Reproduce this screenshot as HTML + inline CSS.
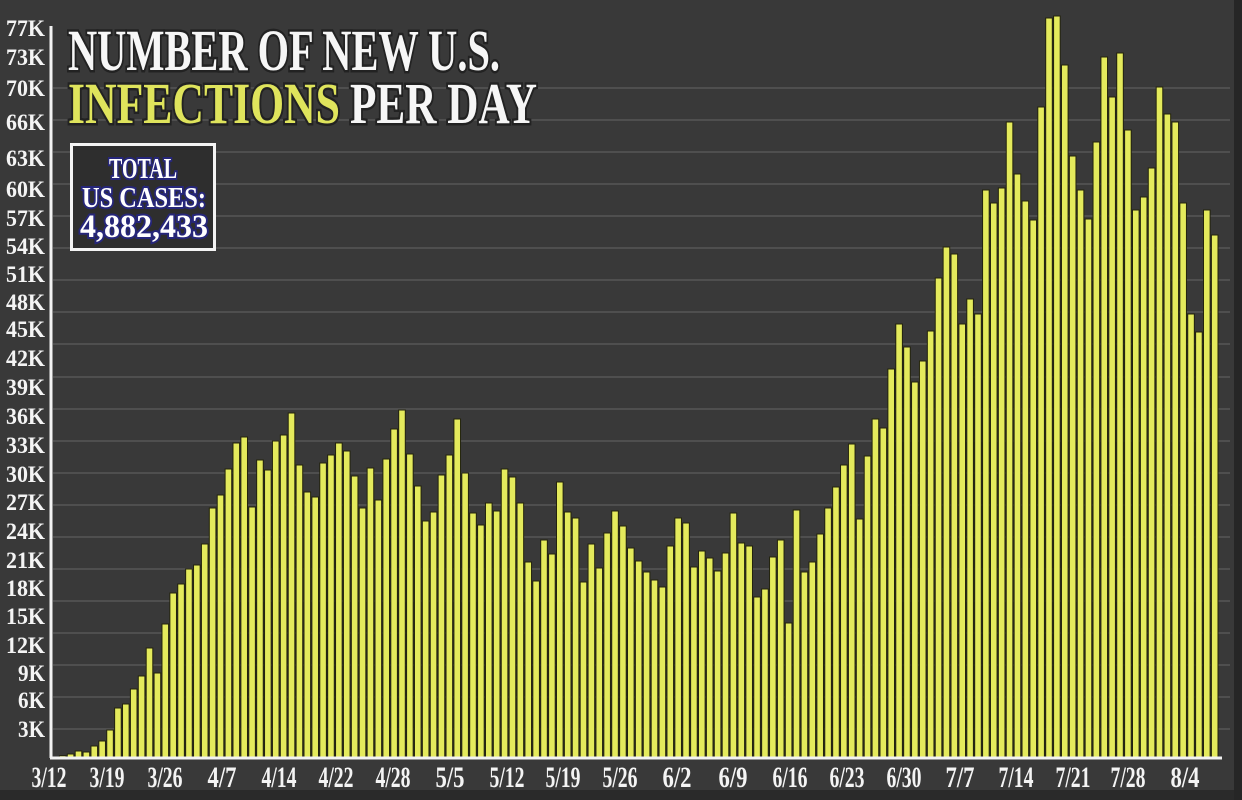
<!DOCTYPE html>
<html><head><meta charset="utf-8"><style>
html,body{margin:0;padding:0;background:#383838;}
svg{display:block;}
text{font-family:"Liberation Serif",serif;font-weight:bold;}
</style></head><body>
<svg id="s" width="1242" height="800" viewBox="0 0 1242 800" xmlns="http://www.w3.org/2000/svg">
<rect x="0" y="0" width="1242" height="800" fill="#393939"/>
<rect x="0" y="790" width="1242" height="10" fill="#2a2a2a"/>
<rect x="1234" y="0" width="8" height="800" fill="#262626"/>
<g id="grid" stroke="#575757" stroke-width="1.5"></g>
<g id="bars"></g>
<line x1="51" y1="26" x2="51" y2="758" stroke="#f2f2f2" stroke-width="3"/>
<line x1="50" y1="758" x2="1222" y2="758" stroke="#f2f2f2" stroke-width="3"/>
<g id="ylab" fill="#f4f4f4" font-size="23" text-anchor="end"></g>
<g id="xlab" fill="#f4f4f4" font-size="30" text-anchor="middle"></g>
<g stroke="#222" stroke-width="5" paint-order="stroke" font-size="58">
<text x="68" y="70" fill="#f6f6f6" textLength="432" lengthAdjust="spacingAndGlyphs">NUMBER OF NEW U.S.</text>
<text x="68" y="123" fill="#dfe45c" textLength="272" lengthAdjust="spacingAndGlyphs">INFECTIONS</text>
<text x="350" y="123" fill="#f6f6f6" textLength="187" lengthAdjust="spacingAndGlyphs">PER DAY</text>
</g>
<rect x="71.5" y="144.5" width="143" height="105" fill="#2e2e2e" stroke="#f4f4f4" stroke-width="3"/>
<g fill="#ffffff" stroke="#26267a" stroke-width="4" paint-order="stroke" text-anchor="middle">
<text x="143" y="178" font-size="28" textLength="68" lengthAdjust="spacingAndGlyphs">TOTAL</text>
<text x="144" y="207" font-size="28" textLength="124" lengthAdjust="spacingAndGlyphs">US CASES:</text>
<text x="144" y="237" font-size="33" textLength="128" lengthAdjust="spacingAndGlyphs">4,882,433</text>
</g>
</svg>
<script>
var NS="http://www.w3.org/2000/svg";
function el(t,a,p,txt){var e=document.createElementNS(NS,t);for(var k in a)e.setAttribute(k,a[k]);if(txt!==undefined)e.textContent=txt;document.getElementById(p).appendChild(e);return e;}
var gy=[88,120,152,184,216,248,280,312,344,377,409,441,473,505,537,569,601,633,665,697,729];
gy.forEach(function(y){el("line",{x1:53,y1:y,x2:1230,y2:y},"grid");});
var tops=[755.7,754,751,752,746,741,730,708,704,689,676,648,673,624,593,584,569,565,544,508,495,469,443,437,507,460,470,441,435,413,465,492,497,463,455,443,451,
476,508,468,500,459,429,410,454,486,521,512,475,455,419,473,513,525,503,511,469,477,503,562,581,540,554,482,512,518,582,544,568,533,511,526,548,561,
572,580,587,546,518,523,567,551,558,571,553,513,543,546,597,589,557,540,623,510,572,562,534,508,487,465,444,519,456,419,428,
369,324,347,382,361,331,278,247,254,324,299,314,190,203,188,122,174,201,220,107,18,16,65,156,190,219,142,57,97,53,130,210,197,168,87,114,122,203,314,332,210,235];
var n=tops.length,c0=62.7,c1=1214.7,p=(c1-c0)/(n-1);
tops.forEach(function(t,i){var cx=c0+i*p;el("rect",{x:(cx-3.3).toFixed(2),y:t,width:6.6,height:(757-t).toFixed(2),fill:"#e4ea5c",stroke:"#23230c","stroke-width":1},"bars");});
var yl=[["77K",28],["73K",57],["70K",88],["66K",122],["63K",158],["60K",189],["57K",218],["54K",246],["51K",274],["48K",302],["45K",329],["42K",358],["39K",387],["36K",416],["33K",445],["30K",474],["27K",502],["24K",531],["21K",560],["18K",588],["15K",616],["12K",645],["9K",673],["6K",700],["3K",729]];
yl.forEach(function(l){el("text",{x:45,y:l[1]+8,textLength:l[0].length==3?39:27,lengthAdjust:"spacingAndGlyphs"},"ylab",l[0]);});
var xl=["3/12","3/19","3/26","4/7","4/14","4/22","4/28","5/5","5/12","5/19","5/26","6/2","6/9","6/16","6/23","6/30","7/7","7/14","7/21","7/28","8/4"];
var xp=[49,107,165,222,279,336,393,450,507,563,620,677,733,790,847,904,960,1016,1073,1128,1185];
xl.forEach(function(l,i){el("text",{x:xp[i],y:787,textLength:l.length==4?35:29,lengthAdjust:"spacingAndGlyphs"},"xlab",l);});
</script>
</body></html>
